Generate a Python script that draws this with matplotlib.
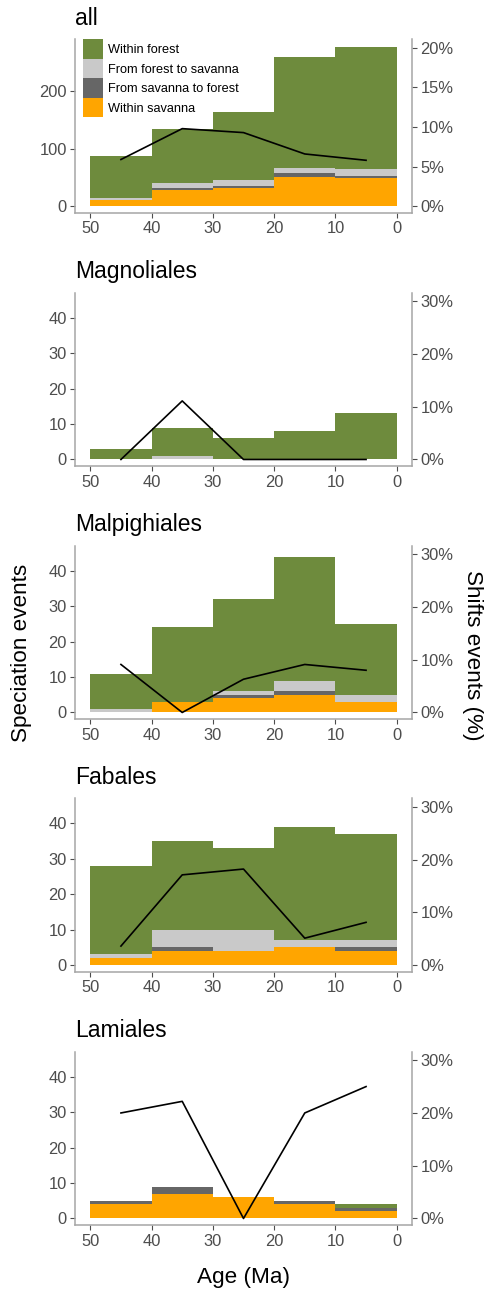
import numpy as np
import matplotlib
matplotlib.use('Agg')
import matplotlib.pyplot as plt
from matplotlib.patches import Patch
from matplotlib.ticker import FuncFormatter

plt.rcParams['font.family'] = ['Liberation Sans', 'DejaVu Sans']

# age bins (centres, Ma)
ages = [45, 35, 25, 15, 5]
age_ticks = [50, 40, 30, 20, 10, 0]

# --- all
all_within_savanna = [10, 28, 31, 50, 49]
all_savanna_to_forest = [1, 3, 4, 7, 3]
all_forest_to_savanna = [4, 10, 11, 10, 13]
all_within_forest = [72, 93, 117, 192, 212]
all_shifts_pct = [5.9, 9.8, 9.3, 6.6, 5.8]

# --- Magnoliales
magn_within_savanna = [0, 0, 0, 0, 0]
magn_savanna_to_forest = [0, 0, 0, 0, 0]
magn_forest_to_savanna = [0, 1, 0, 0, 0]
magn_within_forest = [3, 8, 6, 8, 13]
magn_shifts_pct = [0, 11.1, 0, 0, 0]

# --- Malpighiales
malp_within_savanna = [0, 3, 4, 5, 3]
malp_savanna_to_forest = [0, 0, 1, 1, 0]
malp_forest_to_savanna = [1, 0, 1, 3, 2]
malp_within_forest = [10, 21, 26, 35, 20]
malp_shifts_pct = [9.1, 0, 6.3, 9.1, 8.0]

# --- Fabales
fab_within_savanna = [2, 4, 4, 5, 4]
fab_savanna_to_forest = [0, 1, 0, 0, 1]
fab_forest_to_savanna = [1, 5, 6, 2, 2]
fab_within_forest = [25, 25, 23, 32, 30]
fab_shifts_pct = [3.6, 17.1, 18.2, 5.1, 8.1]

# --- Lamiales
lam_within_savanna = [4, 7, 6, 4, 2]
lam_savanna_to_forest = [1, 2, 0, 1, 1]
lam_forest_to_savanna = [0, 0, 0, 0, 0]
lam_within_forest = [0, 0, 0, 0, 1]
lam_shifts_pct = [20, 22.2, 0, 20, 25]

panels = [
    ('all', all_within_savanna, all_savanna_to_forest, all_forest_to_savanna, all_within_forest, all_shifts_pct),
    ('Magnoliales', magn_within_savanna, magn_savanna_to_forest, magn_forest_to_savanna, magn_within_forest, magn_shifts_pct),
    ('Malpighiales', malp_within_savanna, malp_savanna_to_forest, malp_forest_to_savanna, malp_within_forest, malp_shifts_pct),
    ('Fabales', fab_within_savanna, fab_savanna_to_forest, fab_forest_to_savanna, fab_within_forest, fab_shifts_pct),
    ('Lamiales', lam_within_savanna, lam_savanna_to_forest, lam_forest_to_savanna, lam_within_forest, lam_shifts_pct),
]

labels = ['Within savanna', 'From savanna to forest', 'From forest to savanna', 'Within forest']
colors = ['#FFA500', '#666666', '#C9C9C9', '#6E8B3D']

spine_col = '#A6A6A6'
tick_col = '#4D4D4D'

W, H = 491, 1300
fig = plt.figure(figsize=(W / 100, H / 100), dpi=100)

tops = [39.3, 292.7, 545.7, 798.3, 1051.7]
ax_h = 173.5
left_px, right_px = 75, 412

for i, (name, ws, s2f, f2s, wf, pct) in enumerate(panels):
    top = tops[i]
    ax = fig.add_axes([left_px / W, 1 - (top + ax_h) / H, (right_px - left_px) / W, ax_h / H])
    bottom = np.zeros(len(ages))
    for vals, col in zip([ws, s2f, f2s, wf], colors):
        ax.bar(ages, vals, width=10, bottom=bottom, color=col, linewidth=0)
        bottom = bottom + np.array(vals)

    if i == 0:
        ylim = (-11.5, 290)
        scale = 13.75
        pct_ticks = [0, 5, 10, 15, 20]
        yticks = [0, 100, 200]
    else:
        ylim = (-1.9, 47.1)
        scale = 1.49
        pct_ticks = [0, 10, 20, 30]
        yticks = [0, 10, 20, 30, 40]

    ax.set_xlim(52.5, -2.5)
    ax.set_ylim(*ylim)
    ax.set_xticks(age_ticks)
    ax.set_yticks(yticks)

    ax2 = ax.twinx()
    ax2.plot(ages, pct, color='black', lw=1.2)
    ax2.set_ylim(ylim[0] / scale, ylim[1] / scale)
    ax2.set_yticks(pct_ticks)
    ax2.yaxis.set_major_formatter(FuncFormatter(lambda v, p: '%d%%' % v))

    for a in (ax, ax2):
        a.spines['top'].set_visible(False)
        for s in a.spines.values():
            s.set_color(spine_col)
            s.set_linewidth(1.1)
        a.tick_params(colors=tick_col, labelsize=11.9, length=3.5, width=0.8, pad=2.5)
    ax.spines['right'].set_visible(False)
    ax2.spines['left'].set_visible(False)
    ax2.spines['bottom'].set_visible(False)

    fig.text(left_px / W, 1 - (top - 14.3) / H, name, fontsize=16.5, va='baseline', ha='left')

    if i == 0:
        handles = [Patch(facecolor=c, edgecolor='none') for c in colors[::-1]]
        ax.legend(handles, labels[::-1], loc='upper left', bbox_to_anchor=(8.3 / 337, 1.0),
                  frameon=False, fontsize=9.2, handlelength=1.51, handleheight=1.97,
                  labelspacing=0, handletextpad=0.4, borderpad=0, borderaxespad=0)

fig.text(22 / W, 1 - 653 / H, 'Speciation events', rotation=90, fontsize=16.2, ha='center', va='center')
fig.text(472 / W, 1 - 655 / H, 'Shifts events (%)', rotation=-90, fontsize=16.2, ha='center', va='center')
fig.text((left_px + right_px) / 2 / W, 1 - 1278 / H, 'Age (Ma)', fontsize=16.2, ha='center', va='center')

fig.savefig('out.png', dpi=100)
